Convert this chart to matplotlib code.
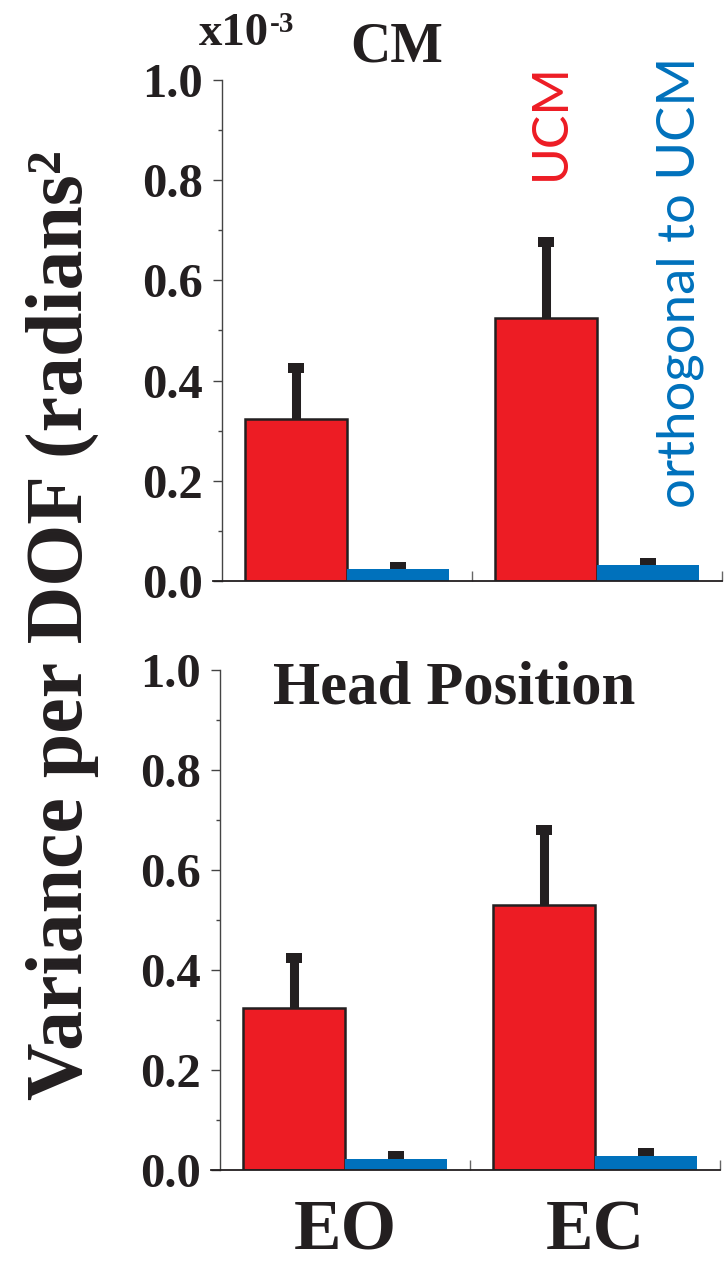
import matplotlib
matplotlib.use("Agg")
import matplotlib.pyplot as plt
import matplotlib.transforms as mtransforms
import numpy as np

categories = ["EO", "EC"]
panel_titles = ["CM", "Head Position"]
series_names = ["UCM", "orthogonal to UCM"]
# values in units of 1e-3 radians^2
cm_ucm = [0.323, 0.525]
cm_ucm_err = [0.102, 0.152]
cm_orth = [0.024, 0.032]
cm_orth_err = [0.004, 0.004]
head_ucm = [0.324, 0.530]
head_ucm_err = [0.101, 0.150]
head_orth = [0.022, 0.028]
head_orth_err = [0.006, 0.006]
yticks = [0.0, 0.2, 0.4, 0.6, 0.8, 1.0]
ytick_labels = ["0.0", "0.2", "0.4", "0.6", "0.8", "1.0"]

RED = "#ed1c24"
BLUE = "#0071bc"
DARK = "#231f20"
SERIF = ["Liberation Serif", "DejaVu Serif"]
SANS = ["Lato", "DejaVu Sans"]

W, H = 725, 1266
fig = plt.figure(figsize=(W / 100, H / 100), dpi=100)
renderer = fig.canvas.get_renderer()

def fit(t, target, along="w"):
    """Scale font size so that text extent (px) matches target."""
    for _ in range(3):
        bb = t.get_window_extent(renderer)
        cur = bb.width if along == "w" else bb.height
        t.set_fontsize(t.get_fontsize() * target / cur)

def make_ax(left_px, zero_px, one_px):
    return fig.add_axes([left_px / W, (H - zero_px) / H, 500 / W, (zero_px - one_px) / H])

ax_top = make_ax(222, 581, 80)
ax_bot = make_ax(220, 1170, 670)

x = np.arange(len(categories)) + 0.5
bw = 0.408

def draw(ax, ucm, ucm_err, orth, orth_err, show_labels):
    ax.bar(x - bw / 2, ucm, width=bw, color=RED, edgecolor=DARK, linewidth=1.8, zorder=2)
    ax.bar(x + bw / 2, orth, width=bw, color=BLUE, edgecolor="none", zorder=2)
    for xs, v, e in ((x - bw / 2, ucm, ucm_err), (x + bw / 2, orth, orth_err)):
        cont = ax.errorbar(xs, v, yerr=[np.zeros(len(e)), e], fmt="none", ecolor=DARK,
                           elinewidth=6.5, capsize=6.1, capthick=7.2, zorder=1)
        cont[1][0].set_visible(False)  # hide lower caps
    ax.set_xlim(0, 2)
    ax.set_ylim(0, 1.0)
    for s in ("top", "right", "bottom"):
        ax.spines[s].set_visible(False)
    ax.spines["left"].set_linewidth(1.0)
    ax.spines["left"].set_color("#444444")
    ax.plot([-0.018, 1.0], [0, 0], transform=ax.get_yaxis_transform(), color=DARK,
            lw=1.3, clip_on=False, zorder=3)
    ax.set_yticks(yticks, ytick_labels)
    ax.set_yticks(np.arange(0.1, 1.0, 0.2), minor=True)
    ax.tick_params(axis="y", which="major", direction="out", length=6.5, width=1.0,
                   color="#444444", pad=7, labelsize=35)
    ax.tick_params(axis="y", which="minor", direction="out", length=3, width=1.0, color="#444444")
    for lab in ax.get_yticklabels():
        lab.set_fontfamily(SERIF)
        lab.set_fontweight("bold")
        lab.set_color(DARK)
    ax.set_xticks([1, 2], ["", ""])
    ax.tick_params(axis="x", which="major", direction="in", length=7, width=1.0, color="#666666")
    if show_labels:
        tr = mtransforms.blended_transform_factory(ax.transData, fig.transFigure)
        for xi, cat in zip(x, categories):
            t = ax.text(xi, 1 - 1249 / H, cat, transform=tr, ha="center", va="baseline",
                        fontsize=52, fontweight="bold", family=SERIF, color=DARK)
            if cat == "EO":
                fit(t, 103, "w")

draw(ax_top, cm_ucm, cm_ucm_err, cm_orth, cm_orth_err, False)
draw(ax_bot, head_ucm, head_ucm_err, head_orth, head_orth_err, True)
# EC same size as EO
eo_size = [t for t in ax_bot.texts if t.get_text() == "EO"][0].get_fontsize()
for t in ax_bot.texts:
    t.set_fontsize(eo_size)

t = fig.text(397 / W, 1 - 62 / H, panel_titles[0], ha="center", va="baseline", fontsize=40,
             fontweight="bold", family=SERIF, color=DARK)
fit(t, 93, "w")
t = fig.text(454 / W, 1 - 703 / H, panel_titles[1], ha="center", va="baseline", fontsize=40,
             fontweight="bold", family=SERIF, color=DARK)
fit(t, 362, "w")
t = fig.text(199 / W, 1 - 45 / H, "x10", ha="left", va="baseline", fontsize=28,
             fontweight="bold", family=SERIF, color=DARK)
fit(t, 70, "w")
fig.text(270 / W, 1 - 32 / H, "-3", ha="left", va="baseline", fontsize=21,
         fontweight="bold", family=SERIF, color=DARK)

t = fig.text(565 / W, 1 - 121.5 / H, series_names[0], rotation=90, rotation_mode="anchor",
             ha="center", va="baseline", fontsize=37, family=SANS, color=RED)
fit(t, 117, "h")
t = fig.text(695 / W, 1 - 282.5 / H, series_names[1], rotation=90, rotation_mode="anchor",
             ha="center", va="baseline", fontsize=37, family=SANS, color=BLUE)
fit(t, 451, "h")

t = fig.text(82 / W, 1 - 625 / H, "Variance per DOF (radians\u00b2", rotation=90,
             rotation_mode="anchor", ha="center", va="baseline", fontsize=57,
             fontweight="bold", family=SERIF, color=DARK)
fit(t, 950, "h")

fig.savefig("out.png", dpi=100)
